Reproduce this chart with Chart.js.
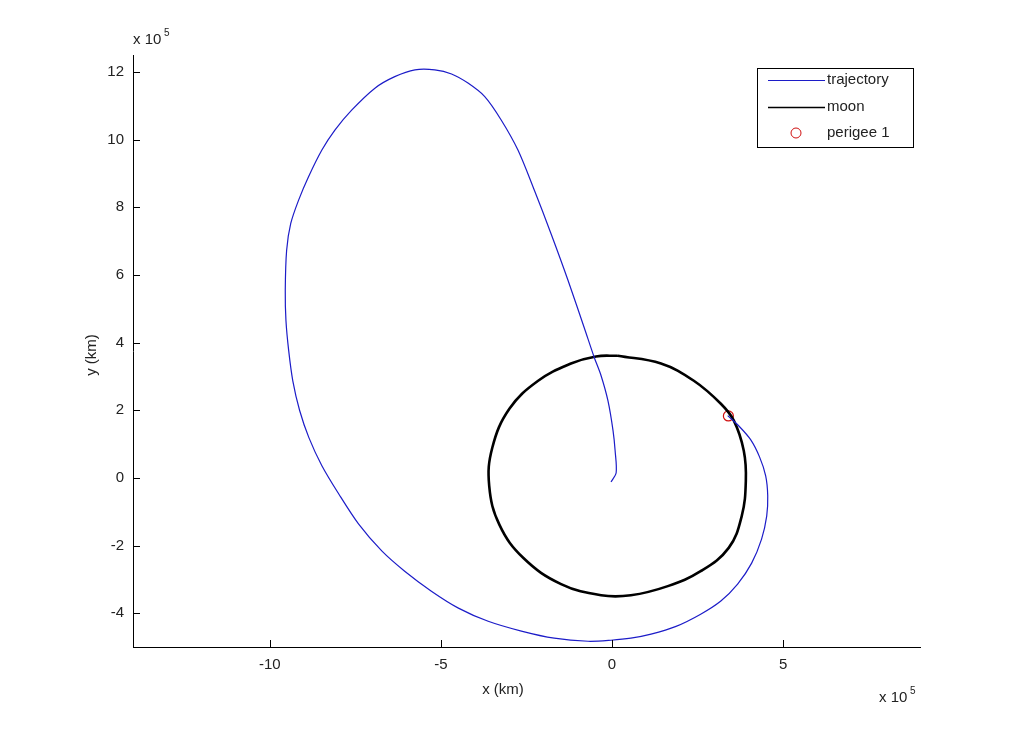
<!DOCTYPE html>
<html>
<head>
<meta charset="utf-8">
<script src="https://cdn.jsdelivr.net/npm/chart.js@4.4.1/dist/chart.umd.min.js"></script>
<style>
  html, body { margin: 0; padding: 0; background: #fff; }
  #wrap { width: 1018px; height: 729px; }
</style>
</head>
<body>
<div id="wrap"><canvas id="orbitChart" width="1018" height="729"></canvas></div>
<script>
// values in units of 1e5 km
const trajX = [-0.03, 0.12, 0.09, 0.03, -0.12, -0.32, -0.52, -0.81, -1.29, -1.78, -2.27, -2.75, -3.24, -3.72, -4.21, -4.69, -5.18, -5.76, -6.35, -6.93, -7.61, -8.1, -8.48, -8.87, -9.16, -9.39, -9.51, -9.55, -9.53, -9.45, -9.33, -9.13, -8.86, -8.48, -7.99, -7.41, -6.73, -6.06, -5.28, -4.49, -3.62, -2.65, -1.69, -0.7, -0.03, 0.55, 1.14, 1.87, 2.59, 3.18, 3.67, 4.08, 4.37, 4.52, 4.55, 4.49, 4.31, 4.05, 3.7, 3.38];
const trajY = [-0.12, 0.15, 0.8, 1.39, 2.28, 3.02, 3.56, 4.43, 5.85, 7.21, 8.5, 9.69, 10.58, 11.27, 11.67, 11.94, 12.06, 12.06, 11.86, 11.52, 10.87, 10.28, 9.69, 8.9, 8.21, 7.52, 6.73, 5.54, 4.65, 3.76, 2.87, 1.99, 1.19, 0.36, -0.47, -1.36, -2.16, -2.76, -3.35, -3.85, -4.24, -4.53, -4.74, -4.83, -4.8, -4.74, -4.62, -4.39, -4.03, -3.64, -3.14, -2.52, -1.81, -1.13, -0.53, 0.06, 0.62, 1.13, 1.54, 1.84];

const moonX = [0.17, 1.43, 2.39, 3.18, 3.56, 3.85, 3.91, 3.79, 3.41, 2.59, 1.63, 0.55, -0.32, -1.49, -2.59, -3.29, -3.59, -3.5, -3.0, -2.16, -1.2, -0.47, 0.17];
const moonY = [3.61, 3.38, 2.87, 2.19, 1.69, 0.8, -0.09, -1.13, -2.07, -2.76, -3.2, -3.47, -3.47, -3.14, -2.37, -1.39, -0.24, 0.89, 2.04, 2.87, 3.38, 3.59, 3.61];

const perigeeX = [3.4];
const perigeeY = [1.83];

const xTickValues = [-10, -5, 0, 5];
const yTickValues = [-4, -2, 0, 2, 4, 6, 8, 10, 12];

const labels = ['trajectory', 'moon', 'perigee 1'];
const colors = ['#1c1cc8', '#000000', '#d01010'];

const FONT = '"Liberation Sans", Arial, sans-serif';
const TEXT = '#222222';

const toPoints = (xs, ys) => xs.map((x, i) => ({ x: x, y: ys[i] }));

// inward tick marks, axis labels, exponents and the legend box
const matlabDecor = {
    id: 'matlabDecor',
    afterDraw(chart) {
        const ctx = chart.ctx;
        const area = chart.chartArea;
        const xs = chart.scales.x;
        const ys = chart.scales.y;
        ctx.save();
        ctx.strokeStyle = '#000';
        ctx.lineWidth = 1;
        ctx.beginPath();
        xTickValues.forEach(v => {
            const px = Math.round(xs.getPixelForValue(v)) + 0.5;
            ctx.moveTo(px, area.bottom);
            ctx.lineTo(px, area.bottom - 7);
        });
        yTickValues.forEach(v => {
            const py = Math.round(ys.getPixelForValue(v)) + 0.5;
            ctx.moveTo(area.left, py);
            ctx.lineTo(area.left + 7, py);
        });
        ctx.stroke();

        ctx.fillStyle = TEXT;
        ctx.font = '15px ' + FONT;
        ctx.textAlign = 'center';
        ctx.textBaseline = 'middle';
        ctx.fillText('x (km)', 503, 690);

        ctx.save();
        ctx.translate(92, 355);
        ctx.rotate(-Math.PI / 2);
        ctx.fillText('y (km)', 0, 0);
        ctx.restore();

        // exponent labels
        ctx.textAlign = 'left';
        ctx.font = '15px ' + FONT;
        ctx.fillText('x 10', 133, 40);
        ctx.fillText('x 10', 879, 698);
        ctx.font = '10px ' + FONT;
        ctx.fillText('5', 164, 33);
        ctx.fillText('5', 910, 691);

        // legend
        const lx = 757, ly = 68, lw = 156, lh = 79;
        ctx.fillStyle = '#fff';
        ctx.fillRect(lx, ly, lw, lh);
        ctx.strokeStyle = '#000';
        ctx.strokeRect(lx + 0.5, ly + 0.5, lw, lh);
        const rows = [80, 107, 133];
        ctx.font = '15px ' + FONT;
        rows.forEach((ry, i) => {
            ctx.strokeStyle = colors[i];
            if (i < 2) {
                ctx.lineWidth = i === 1 ? 1.5 : 1;
                ctx.beginPath();
                ctx.moveTo(768, ry + 0.5);
                ctx.lineTo(825, ry + 0.5);
                ctx.stroke();
            } else {
                ctx.lineWidth = 1;
                ctx.beginPath();
                ctx.arc(796, ry, 5, 0, Math.PI * 2);
                ctx.stroke();
            }
            ctx.fillStyle = TEXT;
            ctx.fillText(labels[i], 827, ry);
        });
        ctx.restore();
    }
};

const canvas = document.getElementById('orbitChart');
const ctx = canvas.getContext('2d');

new Chart(ctx, {
    type: 'scatter',
    data: {
        datasets: [
            {
                label: labels[0],
                data: toPoints(trajX, trajY),
                showLine: true,
                borderColor: colors[0],
                borderWidth: 1.2,
                pointRadius: 0,
                tension: 0.3,
                fill: false,
            },
            {
                label: labels[1],
                data: toPoints(moonX, moonY),
                showLine: true,
                borderColor: colors[1],
                borderWidth: 2.6,
                pointRadius: 0,
                tension: 0.4,
                fill: false,
            },
            {
                label: labels[2],
                data: toPoints(perigeeX, perigeeY),
                showLine: false,
                pointStyle: 'circle',
                pointRadius: 5,
                borderColor: colors[2],
                borderWidth: 1.2,
                backgroundColor: 'rgba(0,0,0,0)',
            },
        ],
    },
    options: {
        responsive: false,
        animation: false,
        layout: { padding: { left: 0, top: 55, right: 98, bottom: 0 } },
        plugins: {
            legend: { display: false },
            tooltip: { enabled: false },
        },
        scales: {
            x: {
                type: 'linear',
                min: -14,
                max: 9,
                afterBuildTicks: (scale) => { scale.ticks = xTickValues.map(v => ({ value: v })); },
                afterFit: (scale) => { scale.height = 82; },
                grid: { display: false, drawTicks: false },
                border: { display: true, color: '#000', width: 1 },
                ticks: {
                    color: TEXT,
                    font: { family: FONT, size: 15 },
                    padding: 9,
                    maxRotation: 0,
                },
            },
            y: {
                type: 'linear',
                min: -5,
                max: 12.5,
                afterBuildTicks: (scale) => { scale.ticks = yTickValues.map(v => ({ value: v })); },
                afterFit: (scale) => { scale.width = 133; },
                grid: { display: false, drawTicks: false },
                border: { display: true, color: '#000', width: 1 },
                ticks: {
                    color: TEXT,
                    font: { family: FONT, size: 15 },
                    padding: 9,
                },
            },
        },
    },
    plugins: [matlabDecor],
});
</script>
</body>
</html>
